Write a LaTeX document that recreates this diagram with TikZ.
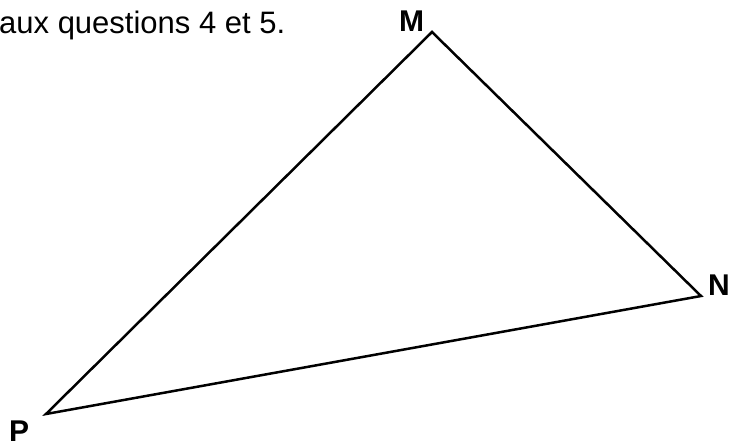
\documentclass[tikz,border=0pt]{standalone}
\usepackage{fontspec}
\setmainfont{Liberation Sans}
\begin{document}
\begin{tikzpicture}[x=1pt,y=-1pt,
  lbl/.style={font=\fontsize{30}{36}\selectfont\bfseries, inner sep=0pt, anchor=base west},
  side/.style={line width=2.5pt, line join=miter}]
\useasboundingbox (0,0) rectangle (741,445);
\node[font=\fontsize{31}{37}\selectfont, inner sep=0pt, anchor=base west] (txt) at (-1,33) {aux questions 4 et 5.};
\coordinate (M) at (432,32);
\coordinate (N) at (701,296);
\coordinate (P) at (46,414);
\draw[side] (M) -- (N) -- (P) -- cycle;
\node[lbl] (lM) at (399,31) {M};
\node[lbl] (lN) at (708,295) {N};
\node[lbl] (lP) at (9,441) {P};
\end{tikzpicture}
\end{document}
